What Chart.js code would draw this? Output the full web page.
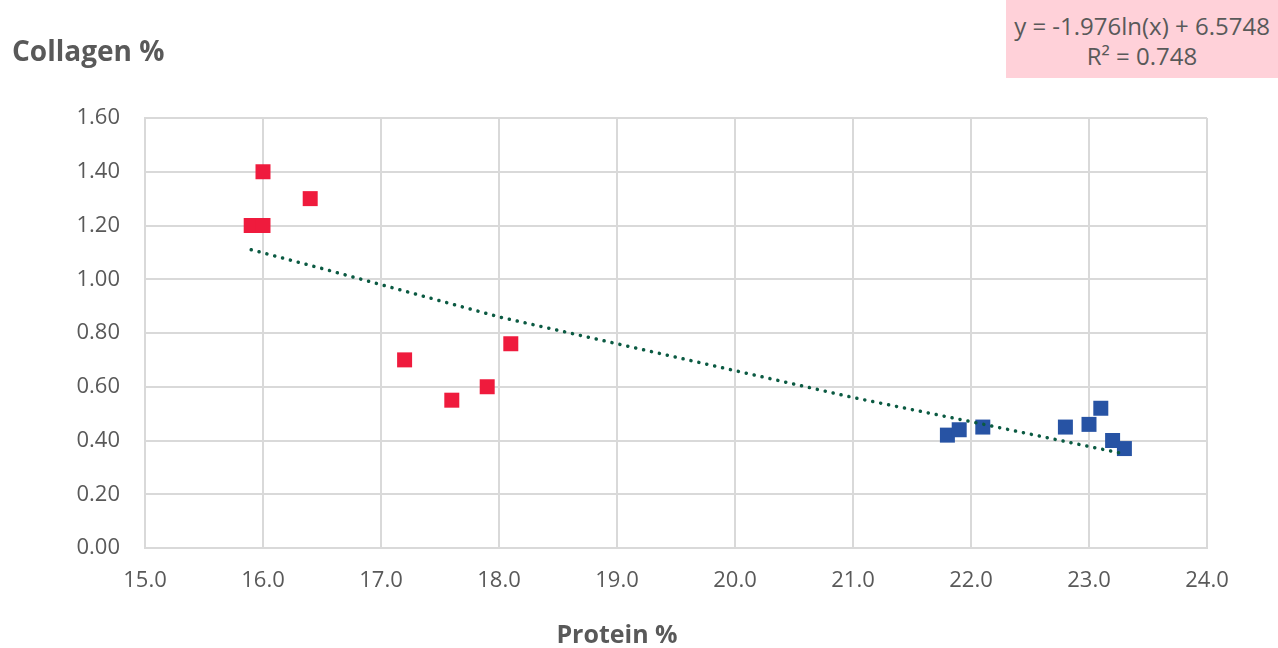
<!DOCTYPE html>
<html>
<head>
<meta charset="utf-8">
<script src="https://cdn.jsdelivr.net/npm/chart.js@4/dist/chart.umd.min.js"></script>
<style>
  html, body { margin: 0; padding: 0; background: #fff; }
  #wrap { position: relative; width: 1278px; height: 648px; }
  #eq {
    position: absolute; left: 1006px; top: 0; width: 272px; height: 78px;
    background: #ffd1d9; color: #595959; text-align: center;
    font-family: "Open Sans", sans-serif; font-size: 24px; line-height: 30px;
    box-sizing: border-box; padding-top: 11px;
  }
</style>
</head>
<body>
<div id="wrap">
  <canvas id="mycanvas" width="1278" height="648"></canvas>
  <div id="eq">y = -1.976ln(x) + 6.5748<br>R² = 0.748</div>
</div>
<script>
// red group (low protein)
var redProtein = [15.9, 16.0, 16.0, 16.4, 17.2, 17.6, 17.9, 18.1];
var redCollagen = [1.20, 1.20, 1.40, 1.30, 0.70, 0.55, 0.60, 0.76];
// blue group (high protein)
var blueProtein = [21.8, 21.9, 22.1, 22.8, 23.0, 23.1, 23.2, 23.3];
var blueCollagen = [0.42, 0.44, 0.45, 0.45, 0.46, 0.52, 0.40, 0.37];
// log trendline, values
var trendX = [15.9, 16.5, 17.0, 18.0, 19.0, 20.0, 21.0, 22.0, 23.3];
var trendY = [1.11, 1.04, 0.98, 0.86, 0.76, 0.66, 0.56, 0.47, 0.35];

var textGrey = '#595959';
var font = "'Open Sans', sans-serif";

function pts(xs, ys) {
  var out = [];
  for (var i = 0; i < xs.length; i++) {
    out.push({x: xs[i], y: ys[i]});
  }
  return out;
}

// axis titles drawn like excel: y title flat at the top left
var titlesPlugin = {
  id: 'titles',
  afterDraw: function(chart) {
    var ctx = chart.ctx;
    ctx.save();
    ctx.fillStyle = textGrey;
    ctx.textBaseline = 'middle';
    ctx.textAlign = 'left';
    ctx.font = "bold 28px " + font;
    ctx.fillText('Collagen %', 12, 53);
    ctx.textAlign = 'center';
    ctx.font = "bold 25px " + font;
    ctx.fillText('Protein %', 617, 636);
    ctx.restore();
  }
};

var ctx = document.getElementById("mycanvas").getContext('2d');
var mychart = new Chart(ctx, {
  type: 'scatter',
  data: {
    datasets: [
      {
        label: 'Trend',
        data: pts(trendX, trendY),
        showLine: true,
        borderColor: '#0b5a42',
        borderWidth: 3.5,
        borderDash: [0.1, 8],
        borderCapStyle: 'round',
        pointRadius: 0,
        order: 0
      },
      {
        label: 'Red',
        data: pts(redProtein, redCollagen),
        pointStyle: 'rect',
        pointRadius: 10.6,
        pointHoverRadius: 10.6,
        backgroundColor: '#ef1b3d',
        borderColor: '#ef1b3d',
        borderWidth: 0,
        order: 1
      },
      {
        label: 'Blue',
        data: pts(blueProtein, blueCollagen),
        pointStyle: 'rect',
        pointRadius: 10.6,
        pointHoverRadius: 10.6,
        backgroundColor: '#2753a4',
        borderColor: '#2753a4',
        borderWidth: 0,
        order: 2
      }
    ]
  },
  options: {
    responsive: false,
    animation: false,
    layout: { padding: { left: 0, top: 118, right: 71, bottom: 0 } },
    plugins: {
      legend: { display: false },
      tooltip: { enabled: false }
    },
    scales: {
      x: {
        type: 'linear',
        min: 15,
        max: 24,
        afterFit: function(axis) { axis.height = 100; },
        grid: { color: '#d9d9d9', lineWidth: 2, drawTicks: false },
        border: { color: '#d9d9d9', width: 2 },
        ticks: {
          stepSize: 1,
          padding: 20,
          color: textGrey,
          font: { family: font, size: 22 },
          callback: function(v) { return v.toFixed(1); }
        }
      },
      y: {
        min: 0,
        max: 1.6,
        afterFit: function(axis) { axis.width = 145; },
        grid: { color: '#d9d9d9', lineWidth: 2, drawTicks: false },
        border: { color: '#d9d9d9', width: 2 },
        ticks: {
          stepSize: 0.2,
          padding: 25,
          color: textGrey,
          font: { family: font, size: 22 },
          callback: function(v) { return v.toFixed(2); }
        }
      }
    }
  },
  plugins: [titlesPlugin]
});
</script>
</body>
</html>
